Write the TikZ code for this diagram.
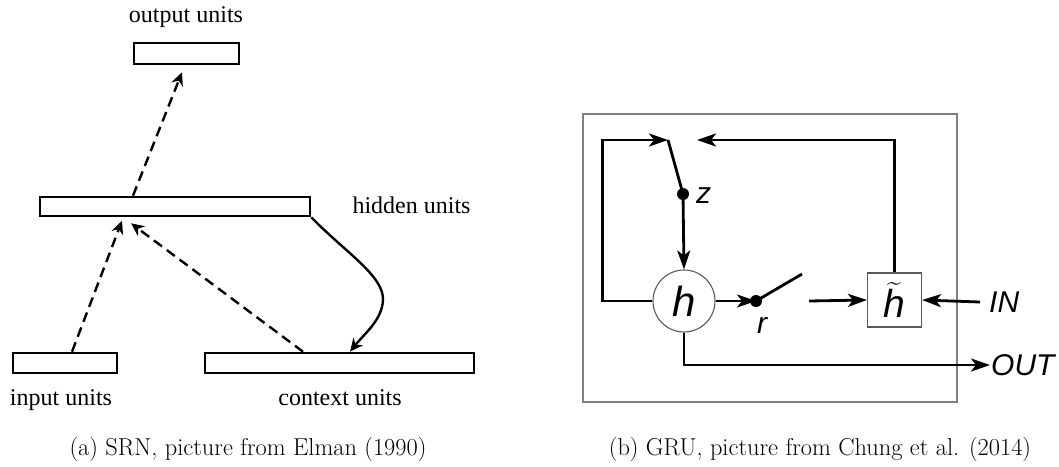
\documentclass[tikz,border=0pt]{standalone}
\usepackage{exscale}
\usepackage{fontspec}
\newfontfamily\timesf{Liberation Serif}
\newfontfamily\arialf{Liberation Sans}
\usetikzlibrary{arrows.meta}
\begin{document}
\begin{tikzpicture}[x=1pt,y=-1pt,
  unitbox/.style={draw, line width=2.6pt, rectangle, inner sep=0pt},
  serif/.style={font=\fontsize{24}{28}\selectfont\timesf, inner sep=0pt},
  capt/.style={font=\fontsize{24.4}{28}\selectfont, inner sep=0pt},
  dasharrow/.style={line width=2.4pt, dash pattern=on 10pt off 6pt, -{Stealth[length=13pt,width=12pt,inset=4pt]}},
  solidarrow/.style={line width=2.4pt, -{Stealth[length=13pt,width=12pt,inset=4pt]}},
  gline/.style={line width=2.8pt},
  garrow/.style={gline, -{Stealth[length=19pt,width=13pt,inset=5pt]}},
  gtext/.style={font=\fontsize{30}{34}\selectfont\arialf\itshape, inner sep=0pt},
  dotnode/.style={circle, fill, inner sep=0pt, minimum size=12pt}
]
\useasboundingbox (0,0) rectangle (1059,466);

% ---------------- (a) SRN ----------------
\node[unitbox, minimum width=105pt, minimum height=21pt] (out) at (186.5,53.5) {};
\node[unitbox, minimum width=270pt, minimum height=19pt] (hid) at (175,206.5) {};
\node[unitbox, minimum width=104pt, minimum height=20pt] (inp) at (65,363) {};
\node[unitbox, minimum width=269pt, minimum height=20pt] (ctx) at (339.5,363) {};

\node[serif, anchor=base] (outl) at (186,22) {output units};
\node[serif, anchor=base] (hidl) at (411.5,213) {hidden units};
\node[serif, anchor=base] (inpl) at (61,405) {input units};
\node[serif, anchor=base] (ctxl) at (340,405) {context units};

\draw[dasharrow] ([xshift=-42pt]hid.north) -- ([xshift=-4.5pt,yshift=-7pt]out.south);
\draw[dasharrow] ([xshift=7pt]inp.north) -- ([xshift=-53pt,yshift=-3.5pt]hid.south);
\draw[dasharrow] ([xshift=-36.5pt]ctx.north) -- ([xshift=-44pt,yshift=-6pt]hid.south);
\draw[solidarrow] (hid.south east) .. controls (345,252) and (384,276) .. (383,300)
   .. controls (382,320) and (365,333) .. ([xshift=10.5pt]ctx.north);

\node[capt, anchor=base] (capa) at (248,455) {(a) SRN, picture from Elman (1990)};

% ---------------- (b) GRU ----------------
\draw[draw=black!50, line width=1.5pt] (583,114) rectangle (957,402);

\node[circle, draw=black!65, line width=1.1pt, minimum size=62pt, inner sep=0pt,
      font=\fontsize{42}{46}\selectfont\arialf\itshape] (hc) at (684,301) {h};
\node[rectangle, draw=black!65, line width=1.1pt, minimum size=54pt, inner sep=0pt,
      font=\fontsize{39}{44}\selectfont\arialf\itshape] (ht) at (894.5,300)
      {$\widetilde{\mbox{\arialf\itshape h}}$};

\node[dotnode] (zd) at (683,194) {};
\node[dotnode] (rd) at (756,301) {};
\coordinate (zt) at (668,140);
\coordinate (zr) at (697,140);
\coordinate (rs) at (802,274);
\coordinate (rb) at (809,301);

\node[gtext] (zl) at (703.5,196) {z};
\node[gtext] (rl) at (762,325) {r};
\node[gtext, anchor=west, inner xsep=9pt] (inl) at (980,302) {IN};
\node[gtext, anchor=west, inner xsep=1pt] (outl2) at (990,365) {OUT};

\draw[garrow] (hc.west) -- ++(-50,0) |- (zt);
\draw[gline] (zt) -- (zd.center);
\draw[garrow] (zd.center) -- (hc.north);
\draw[garrow] (ht.north) |- (zr);
\draw[garrow] (hc.east) -- (rd.center);
\draw[gline] (rd.center) -- (rs);
\draw[garrow] (rb) -- (ht.west);
\draw[garrow] (inl.west) -- (ht.east);
\draw[garrow] (hc.south) |- (outl2.west);

\node[capt, anchor=base] (capb) at (820,455) {(b) GRU, picture from Chung et al. (2014)};
\end{tikzpicture}
\end{document}
